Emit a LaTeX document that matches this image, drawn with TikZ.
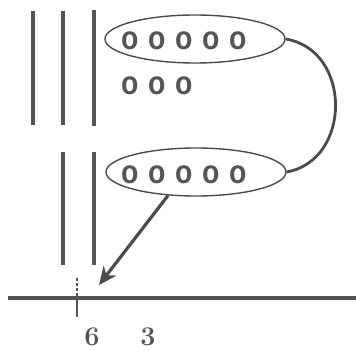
\documentclass[tikz,border=0pt]{standalone}
\usepackage{fontspec}
\usepackage{graphicx}
\newfontfamily\ringfont[LetterSpace=34]{Liberation Sans}
\usetikzlibrary{shapes.geometric,arrows.meta}
\newcommand\narrow[1]{\scalebox{0.86}[1]{#1}}
\tikzset{
  bar/.style={mybar, line width=4.5pt},
  group/.style={draw=myline, ellipse, line width=1.4pt, minimum width=180pt, minimum height=48pt, inner sep=0pt},
  rings/.style={mybar, font=\ringfont\bfseries\fontsize{33}{33}\selectfont, inner sep=0pt, anchor=west},
  digit/.style={mybar, font=\bfseries\fontsize{27}{27}\selectfont, inner sep=0pt}
}
\begin{document}
\begin{tikzpicture}[x=1pt, y=-1pt]
    \definecolor{mybar}{RGB}{85,85,85}
    \definecolor{myline}{RGB}{75,75,75}
    \useasboundingbox (0,0) rectangle (356,350);

    % three bars, two of them continue below
    \draw[bar] (33,11) -- (33,125);
    \draw[bar] (63,11) -- (63,125);
    \draw[bar] (94,10) -- (94,126);
    \draw[bar] (63,152) -- (63,265);
    \draw[bar] (94,152) -- (94,265);

    \node[group] (topgrp) at (195,39) {};
    \node[group] (botgrp) at (196,172) {};
    \node[rings] (toprow) at (121,41) {\narrow{ooooo}};
    \node[rings] (midrow) at (121,86) {\narrow{ooo}};
    \node[rings] (botrow) at (121,175) {\narrow{ooooo}};

    \draw[myline, line width=2.8pt] (topgrp.east) .. controls (352,50) and (352,160) .. (botgrp.east);

    \coordinate (tip) at (99,285);
    \draw[-{Stealth[length=18pt, width=16pt]}, myline, line width=3.2pt] (botgrp.-140) -- (tip);

    % axis and tick
    \draw[mybar, line width=4.5pt] (8,298) -- (356,298);
    \draw[mybar, line width=2.5pt, dash pattern=on 3pt off 2pt] (77,278) -- (77,293);
    \draw[mybar, line width=2.5pt] (77,293) -- (77,317);
    \node[digit] (six) at (92,337) {6};
    \node[digit] (three) at (148,337) {3};
\end{tikzpicture}
\end{document}
